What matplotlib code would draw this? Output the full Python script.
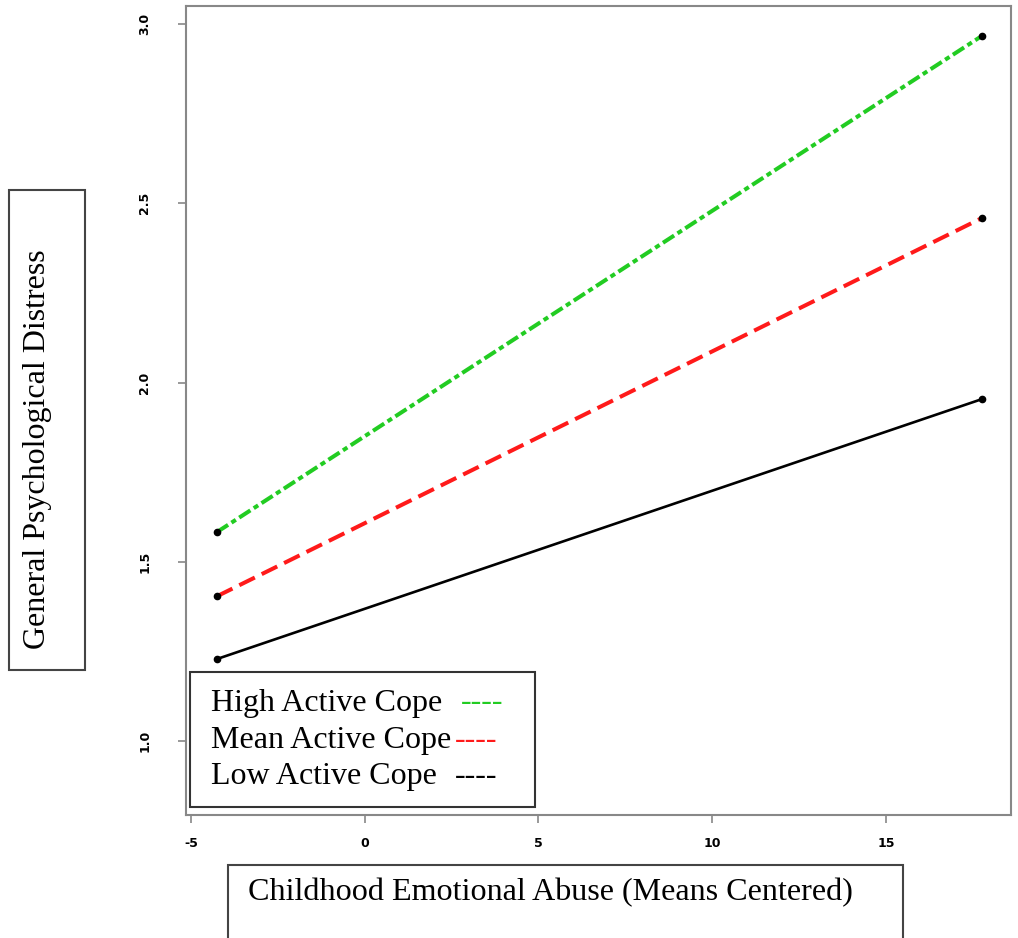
import matplotlib
matplotlib.use('Agg')
from matplotlib import pyplot as plt
from matplotlib.patches import Rectangle

# simple slopes: childhood emotional abuse (x) vs distress (y)
abuse = [-4.25, 17.77]
high_cope = [1.583, 2.967]
mean_cope = [1.404, 2.459]
low_cope = [1.229, 1.954]

x_ticks = [-5, 0, 5, 10, 15]
y_ticks = [1.0, 1.5, 2.0, 2.5, 3.0]
legend_labels = ['High Active Cope', 'Mean Active Cope', 'Low Active Cope']
legend_colors = ['#22cc22', '#ff1a1a', 'black']


def main():
    fig = plt.figure(figsize=(10.18, 9.38), dpi=100)
    ax = fig.add_axes([0.1827, 0.1311, 0.8104, 0.8625])

    ax.plot(abuse, high_cope, color=legend_colors[0], lw=2.9, dashes=(3.3, 1.0, 1.3, 1.0))
    ax.plot(abuse, mean_cope, color=legend_colors[1], lw=2.9, dashes=(4.3, 1.9))
    ax.plot(abuse, low_cope, color=legend_colors[2], lw=1.9)
    for ys in (high_cope, mean_cope, low_cope):
        ax.plot(abuse, ys, 'o', color='black', ms=4.5, zorder=5)

    ax.set_xlim(-5.14, 18.6)
    ax.set_ylim(0.794, 3.05)
    ax.set_xticks(x_ticks)
    ax.set_yticks(y_ticks)
    ax.set_xticklabels([str(t) for t in x_ticks], fontsize=9, fontweight='bold')
    ax.set_yticklabels(['%.1f' % t for t in y_ticks], fontsize=9, fontweight='bold',
                       rotation=90, va='center')
    ax.tick_params(axis='x', length=6, width=1.2, color='#888888', pad=10)
    ax.tick_params(axis='y', length=6, width=1.2, color='#888888', pad=19)
    for s in ax.spines.values():
        s.set_color('#888888')
        s.set_linewidth(1.5)

    W, H = 1018.0, 938.0
    serif = 'Liberation Serif'

    # legend box drawn by hand
    fig.add_artist(Rectangle((190 / W, 1 - 807 / H), 345 / W, 135 / H, transform=fig.transFigure,
                             fill=True, facecolor='white', edgecolor='#333333', lw=1.5))
    ys_txt = [703, 740, 776]
    dash_x = [461, 455, 455]
    for lab, col, yy, dx in zip(legend_labels, legend_colors, ys_txt, dash_x):
        fig.text(211 / W, 1 - yy / H, lab, family=serif, fontsize=23, va='center')
        fig.text(dx / W, 1 - yy / H, '----', family=serif, fontsize=23, va='center', color=col)

    # y label box
    fig.add_artist(Rectangle((9 / W, 1 - 670 / H), 76 / W, 480 / H, transform=fig.transFigure,
                             fill=False, edgecolor='#444444', lw=1.5))
    fig.text(38 / W, 1 - 449 / H, 'General Psychological Distress', family=serif, fontsize=23,
             rotation=90, ha='center', va='center')

    # x label box
    fig.add_artist(Rectangle((228 / W, -0.05), 675 / W, 1 - 865 / H + 0.05, transform=fig.transFigure,
                             fill=False, edgecolor='#444444', lw=1.5))
    fig.text(248 / W, 1 - 893 / H, 'Childhood Emotional Abuse (Means Centered)', family=serif,
             fontsize=23.1, va='center')

    fig.savefig('out.png', dpi=100)


if __name__ == '__main__':
    main()
